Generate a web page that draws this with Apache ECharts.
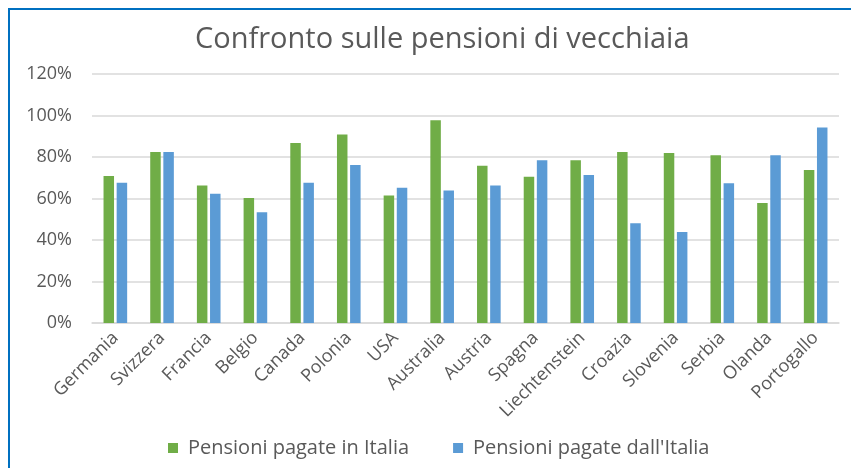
<!DOCTYPE html>
<html>
<head>
<meta charset="utf-8">
<title>Confronto sulle pensioni di vecchiaia</title>
<script src="https://cdn.jsdelivr.net/npm/echarts@6/dist/echarts.min.js"></script>
<style>
    html, body { margin: 0; padding: 0; background: #fff; }
    #wrap { position: relative; width: 851px; height: 468px; overflow: hidden; }
    #frame { position: absolute; left: 8px; top: 8px; width: 900px; height: 500px;
             border-left: 2px solid #0070C0; border-top: 2px solid #0070C0; }
    #chart { position: absolute; left: 0; top: 0; width: 851px; height: 468px; }
</style>
</head>
<body>
<div id="wrap">
    <div id="frame"></div>
    <div id="chart"></div>
</div>
<script>
var paesi = ["Germania", "Svizzera", "Francia", "Belgio", "Canada", "Polonia", "USA", "Australia",
    "Austria", "Spagna", "Liechtenstein", "Croazia", "Slovenia", "Serbia", "Olanda", "Portogallo"];
// valori in percentuale
var pagate_in_italia = [70.8, 82.4, 66.3, 60.2, 86.8, 90.9, 61.5, 97.7, 75.8, 70.5, 78.4, 82.4, 81.9, 80.8, 57.8, 73.7];
var pagate_dall_italia = [67.6, 82.4, 62.3, 53.4, 67.6, 76.1, 65.2, 63.9, 66.3, 78.4, 71.3, 48.1, 43.9, 67.3, 80.8, 94.2];
var tick_y = [0, 20, 40, 60, 80, 100, 120];

var font = "'Open Sans', 'Noto Sans', sans-serif";
var grigio = "#595959";

var myChart = echarts.init(document.getElementById('chart'));

var option = {
    animation: false,
    title: {
        text: 'Confronto sulle pensioni di vecchiaia',
        left: 190,
        top: 20,
        textStyle: { fontFamily: font, fontSize: 29, fontWeight: 'normal', color: grigio }
    },
    legend: {
        data: ['Pensioni pagate in Italia', "Pensioni pagate dall'Italia"],
        left: 163,
        top: 433,
        itemWidth: 10,
        itemHeight: 10,
        itemGap: 44,
        icon: 'rect',
        textStyle: { fontFamily: font, fontSize: 20, color: grigio, padding: [0, 0, 0, 5] }
    },
    grid: { left: 92, right: 12, top: 74, bottom: 145 },
    xAxis: {
        type: 'category',
        data: paesi,
        axisLine: { lineStyle: { color: '#D9D9D9', width: 1.5 } },
        axisTick: { show: false },
        axisLabel: {
            rotate: 45,
            interval: 0,
            margin: 12,
            fontFamily: font,
            fontSize: 18,
            color: grigio
        }
    },
    yAxis: {
        type: 'value',
        min: tick_y[0],
        max: tick_y[tick_y.length - 1],
        interval: 20,
        axisLine: { show: false },
        axisTick: { show: false },
        splitLine: { lineStyle: { color: '#D9D9D9', width: 1.5 } },
        axisLabel: {
            margin: 20,
            fontFamily: font,
            fontSize: 18,
            color: grigio,
            formatter: '{value}%'
        }
    },
    series: [{
        name: 'Pensioni pagate in Italia',
        type: 'bar',
        data: pagate_in_italia,
        barWidth: 10.5,
        barGap: '25%',
        itemStyle: { color: '#70AD47' }
    }, {
        name: "Pensioni pagate dall'Italia",
        type: 'bar',
        data: pagate_dall_italia,
        barWidth: 10.5,
        barGap: '25%',
        itemStyle: { color: '#5B9BD5' }
    }]
};
myChart.setOption(option);
</script>
</body>
</html>
